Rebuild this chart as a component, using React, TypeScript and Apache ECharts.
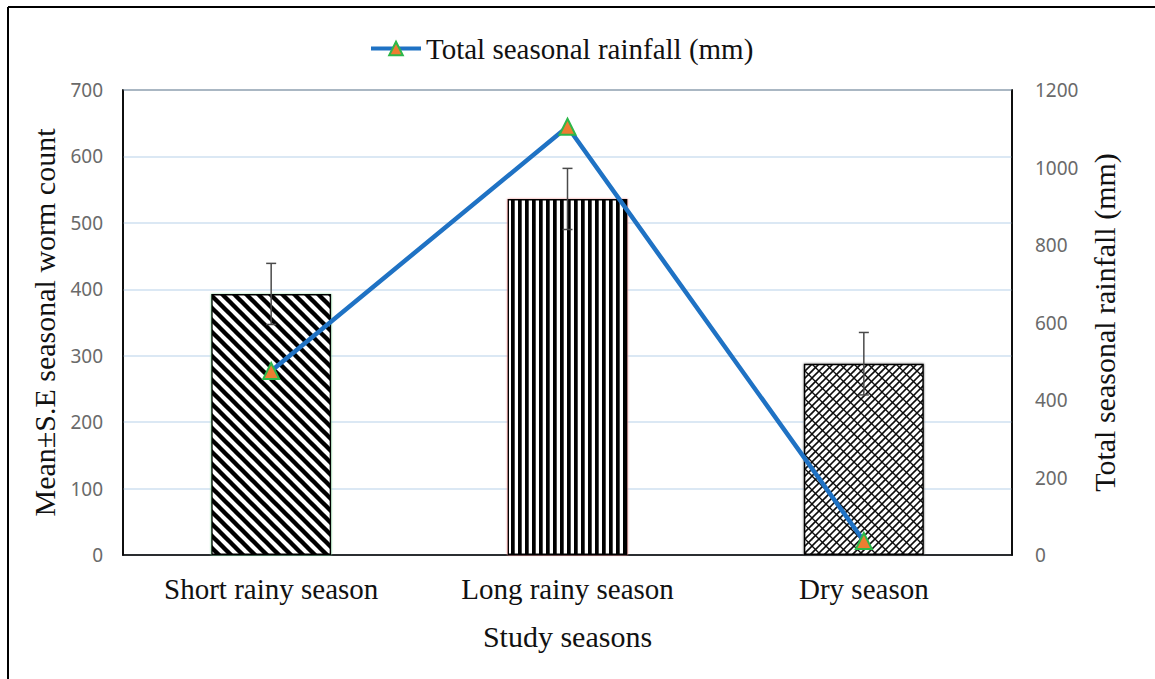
import React, { useEffect, useRef } from "react";
import * as echarts from "echarts";

const categories = ["Short rainy season", "Long rainy season", "Dry season"];
const wormMean = [393, 536, 288];
const wormSE = [46, 46, 47];
const rainfall = [475, 1105, 36];
const leftTicks = [0, 100, 200, 300, 400, 500, 600, 700];
const rightTicks = [0, 200, 400, 600, 800, 1000, 1200];

function makeTile(kind: string): HTMLCanvasElement {
  const c = document.createElement("canvas");
  const ctx = c.getContext("2d") as CanvasRenderingContext2D;
  if (kind === "diag") {
    const s = 12;
    c.width = s; c.height = s;
    ctx.fillStyle = "#fff"; ctx.fillRect(0, 0, s, s);
    ctx.strokeStyle = "#000"; ctx.lineWidth = 4.4;
    for (let k = -1; k <= 1; k++) {
      ctx.beginPath();
      ctx.moveTo(-s, -s + k * s);
      ctx.lineTo(2 * s, 2 * s + k * s);
      ctx.stroke();
    }
  } else if (kind === "vert") {
    c.width = 7; c.height = 4;
    ctx.fillStyle = "#fff"; ctx.fillRect(0, 0, 7, 4);
    ctx.fillStyle = "#000"; ctx.fillRect(0, 0, 3.7, 4);
  } else {
    const s = 14;
    c.width = s; c.height = s;
    ctx.fillStyle = "#fff"; ctx.fillRect(0, 0, s, s);
    ctx.strokeStyle = "#111"; ctx.lineWidth = 1.6;
    for (let k = -3; k <= 5; k++) {
      ctx.beginPath();
      ctx.moveTo(-s, k * 7 + s);
      ctx.lineTo(2 * s, k * 7 - 2 * s);
      ctx.stroke();
    }
    ctx.lineWidth = 1.3;
    for (let k = -1; k <= 1; k++) {
      ctx.beginPath();
      ctx.moveTo(-s, -s + k * s);
      ctx.lineTo(2 * s, 2 * s + k * s);
      ctx.stroke();
    }
  }
  return c;
}

export default function App() {
  const ref = useRef<HTMLDivElement>(null);
  useEffect(() => {
    if (!ref.current) return;
    const chart = echarts.init(ref.current, undefined, { renderer: "svg" });
    const tiles = [makeTile("diag"), makeTile("vert"), makeTile("brick")];
    const edge = ["#7fd89a", "#f08a8a", "#555"];
    const serif = "'Liberation Serif', 'Times New Roman', serif";
    const sans = "'Noto Sans', 'Open Sans', sans-serif";
    chart.setOption({
      animation: false,
      backgroundColor: "#fff",
      grid: { left: 123, right: 143, top: 90, bottom: 124, show: true, borderColor: "#000", borderWidth: 1.5, backgroundColor: "transparent" },
      legend: {
        left: 364,
        top: 29,
        itemWidth: 50,
        itemHeight: 17,
        itemGap: 7,
        lineStyle: { width: 4 },
        textStyle: { fontFamily: serif, fontSize: 29, color: "#111" },
        data: ["Total seasonal rainfall (mm)"],
      },
      xAxis: {
        type: "category",
        data: categories,
        name: "Study seasons",
        nameLocation: "middle",
        nameGap: 66,
        nameTextStyle: { fontFamily: serif, fontSize: 30, color: "#111" },
        axisLine: { lineStyle: { color: "#000", width: 1.5 } },
        axisTick: { show: false },
        axisLabel: { fontFamily: serif, fontSize: 29, color: "#111", margin: 19 },
      },
      yAxis: [
        {
          type: "value",
          min: 0,
          max: 700,
          interval: 100,
          name: "Mean±S.E seasonal worm count",
          nameLocation: "middle",
          nameGap: 60,
          nameTextStyle: { fontFamily: serif, fontSize: 30, color: "#111" },
          axisLine: { show: true, lineStyle: { color: "#000", width: 1.5 } },
          axisTick: { show: false },
          axisLabel: { fontFamily: sans, fontSize: 19, color: "#6a6a6a", margin: 20, formatter: (v: number) => (leftTicks.includes(v) ? String(v) : "") },
          splitLine: { show: true, lineStyle: { color: "#cfe0f0", width: 1.5 } },
        },
        {
          type: "value",
          min: 0,
          max: 1200,
          interval: 200,
          name: "Total seasonal rainfall (mm)",
          nameLocation: "middle",
          nameRotate: 90,
          nameGap: 76,
          nameTextStyle: { fontFamily: serif, fontSize: 30, color: "#111" },
          axisLine: { show: true, lineStyle: { color: "#000", width: 1.5 } },
          axisTick: { show: false },
          axisLabel: { fontFamily: sans, fontSize: 19, color: "#6a6a6a", margin: 23, formatter: (v: number) => (rightTicks.includes(v) ? String(v) : "") },
          splitLine: { show: false },
        },
      ],
      series: [
        {
          type: "bar",
          name: "Mean worm count",
          barWidth: "40.5%",
          yAxisIndex: 0,
          data: wormMean.map((v, i) => ({
            value: v,
            itemStyle: {
              color: { image: tiles[i], repeat: "repeat" },
              borderColor: "#000",
              borderWidth: 1.5,
              shadowColor: edge[i],
              shadowBlur: 2,
            },
          })),
          z: 2,
        },
        {
          type: "custom",
          name: "SE",
          yAxisIndex: 0,
          data: wormMean.map((v, i) => [i, v - wormSE[i], v + wormSE[i]]),
          renderItem: (params: any, api: any) => {
            const x = api.value(0);
            const lo = api.coord([x, api.value(1)]);
            const hi = api.coord([x, api.value(2)]);
            const hw = 5;
            const st = { stroke: "#4a4a4a", lineWidth: 1.5 };
            return {
              type: "group",
              children: [
                { type: "line", shape: { x1: hi[0], y1: hi[1], x2: lo[0], y2: lo[1] }, style: st },
                { type: "line", shape: { x1: hi[0] - hw, y1: hi[1], x2: hi[0] + hw, y2: hi[1] }, style: st },
                { type: "line", shape: { x1: lo[0] - hw, y1: lo[1], x2: lo[0] + hw, y2: lo[1] }, style: st },
              ],
            };
          },
          z: 3,
        },
        {
          type: "line",
          name: "Total seasonal rainfall (mm)",
          yAxisIndex: 1,
          data: rainfall,
          symbol: "triangle",
          symbolSize: 16,
          lineStyle: { color: "#1f72c4", width: 4.5 },
          itemStyle: { color: "#ed7d31", borderColor: "#2db84a", borderWidth: 2 },
          z: 5,
        },
      ],
      graphic: [
        { type: "line", shape: { x1: 8, y1: 7, x2: 1155, y2: 7 }, style: { stroke: "#000", lineWidth: 2 } },
        { type: "line", shape: { x1: 8, y1: 7, x2: 8, y2: 679 }, style: { stroke: "#000", lineWidth: 2 } },
      ],
    });
    return () => chart.dispose();
  }, []);
  return <div ref={ref} style={{ position: "absolute", left: 0, top: 0, width: 1155, height: 679 }} />;
}
